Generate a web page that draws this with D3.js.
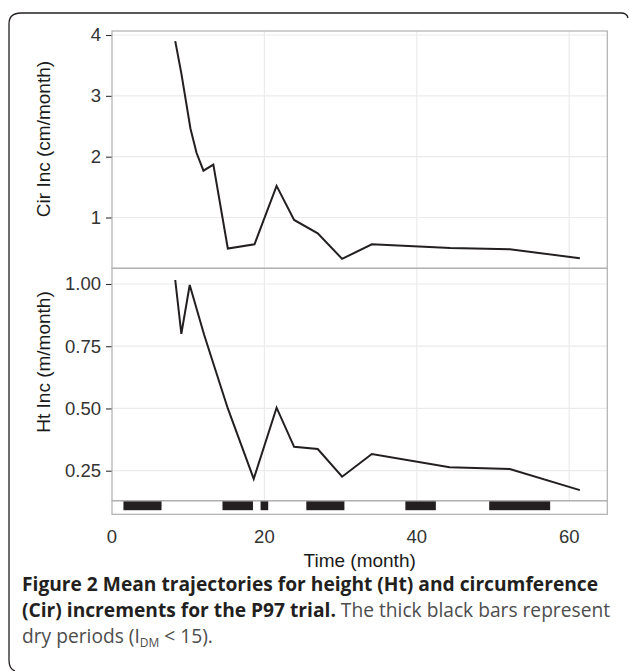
<!DOCTYPE html>
<html>
<head>
<meta charset="utf-8">
<script src="https://cdn.jsdelivr.net/npm/d3@7.9.0/dist/d3.min.js"></script>
<style>
  body { margin: 0; background: #fff; }
  svg { display: block; }
  .tick-label { font-family: "Liberation Sans", Arial, sans-serif; font-size: 18.5px; fill: #333; }
  .axis-title { font-family: "Liberation Sans", Arial, sans-serif; font-size: 19px; fill: #1a1a1a; }
  .caption { font-family: "Open Sans", "Noto Sans", sans-serif; font-size: 19.2px; }
</style>
</head>
<body>
<svg id="chart" width="629" height="671"></svg>
<script>
// circumference increment (cm/month)
const cirTime = [8.3, 9.1, 10.3, 11.1, 12.0, 13.3, 15.2, 18.7, 21.6, 23.9, 27.0, 30.2, 34.1, 44.4, 52.2, 61.4];
const cirInc = [3.90, 3.37, 2.46, 2.06, 1.77, 1.87, 0.49, 0.56, 1.52, 0.96, 0.74, 0.32, 0.56, 0.50, 0.48, 0.33];

// height increment (m/month)
const htTime = [8.3, 9.1, 10.2, 12.1, 15.2, 18.6, 21.6, 23.9, 27.0, 30.2, 34.1, 44.3, 52.2, 61.4];
const htInc = [1.016, 0.80, 0.996, 0.795, 0.50, 0.217, 0.503, 0.346, 0.337, 0.226, 0.317, 0.264, 0.257, 0.172];

// dry periods (I_DM < 15)
const dryStart = [1.5, 14.5, 19.5, 25.5, 38.5, 49.5];
const dryEnd = [6.5, 18.5, 20.5, 30.5, 42.5, 57.5];

const xTicks = [0, 20, 40, 60];
const cirTicks = [1, 2, 3, 4];
const htTicks = [0.25, 0.5, 0.75, 1.0];

const svg = d3.select('#chart');

// layout
const left = 112, right = 607.3;
const topPanel = { y0: 31, y1: 268.3 };
const botPanel = { y0: 268.3, y1: 500.7 };
const strip = { y0: 500.7, y1: 514.3 };

let x = d3.scaleLinear().domain([0, 65]).range([left, right]);
let yCir = d3.scaleLinear().domain([0.165, 4.066]).range([topPanel.y1, topPanel.y0]);
let yHt = d3.scaleLinear().domain([0.1295, 1.063]).range([botPanel.y1, botPanel.y0]);

// outer frame of the figure
svg.append('path')
  .attr('d', 'M15,671 Q9,669 9,660 L9,24 Q9,13 21,13 L621,13 Q627,13 628,18')
  .attr('fill', 'none')
  .attr('stroke', '#231f20')
  .attr('stroke-width', 1.3);

function drawPanel(panel, yScale, ticks, fmt, tVals, vVals) {
  let g = svg.append('g');

  // grid
  g.selectAll('.vgrid').data(xTicks.filter(d => d > 0))
    .join('line')
    .attr('x1', d => x(d)).attr('x2', d => x(d))
    .attr('y1', panel.y0).attr('y2', panel.y1)
    .attr('stroke', '#ebebeb').attr('stroke-width', 1.2);
  g.selectAll('.hgrid').data(ticks)
    .join('line')
    .attr('x1', left).attr('x2', right)
    .attr('y1', d => yScale(d)).attr('y2', d => yScale(d))
    .attr('stroke', '#ebebeb').attr('stroke-width', 1.2);

  // left axis
  let axis = d3.axisLeft(yScale).tickValues(ticks).tickFormat(fmt).tickSize(6).tickPadding(5);
  let ag = g.append('g').attr('transform', `translate(${left},0)`).call(axis);
  ag.attr('font-size', null).attr('font-family', null);
  ag.select('.domain').remove();
  ag.selectAll('.tick line').attr('stroke', '#333').attr('stroke-width', 1.1);
  ag.selectAll('.tick text').attr('class', 'tick-label').attr('fill', null);

  // line
  let pts = tVals.map((t, i) => [t, vVals[i]]);
  g.append('path')
    .datum(pts)
    .attr('d', d3.line().x(d => x(d[0])).y(d => yScale(d[1])))
    .attr('fill', 'none')
    .attr('stroke', '#231f20')
    .attr('stroke-width', 2)
    .attr('stroke-linejoin', 'miter');

  g.append('rect')
    .attr('x', left).attr('y', panel.y0)
    .attr('width', right - left).attr('height', panel.y1 - panel.y0)
    .attr('fill', 'none').attr('stroke', '#b0b0b0').attr('stroke-width', 1.2);
}

drawPanel(topPanel, yCir, cirTicks, d3.format('d'), cirTime, cirInc);
drawPanel(botPanel, yHt, htTicks, d3.format('.2f'), htTime, htInc);

// dry period strip
let sg = svg.append('g');
sg.selectAll('rect.dry').data(dryStart)
  .join('rect')
  .attr('class', 'dry')
  .attr('x', (d, i) => x(d))
  .attr('width', (d, i) => x(dryEnd[i]) - x(d))
  .attr('y', strip.y0 + 0.5)
  .attr('height', 9)
  .attr('fill', '#231f20');
sg.append('rect')
  .attr('x', left).attr('y', strip.y0)
  .attr('width', right - left).attr('height', strip.y1 - strip.y0)
  .attr('fill', 'none').attr('stroke', '#b0b0b0').attr('stroke-width', 1.2);

// x labels
svg.append('g').selectAll('text').data(xTicks)
  .join('text')
  .attr('class', 'tick-label')
  .attr('x', d => x(d))
  .attr('y', 543)
  .attr('text-anchor', 'middle')
  .text(d => d);

svg.append('text').attr('class', 'axis-title')
  .attr('x', (left + right) / 2).attr('y', 567)
  .attr('text-anchor', 'middle')
  .text('Time (month)');

svg.append('text').attr('class', 'axis-title')
  .attr('transform', 'translate(50,139) rotate(-90)')
  .attr('text-anchor', 'middle')
  .text('Cir Inc (cm/month)');

svg.append('text').attr('class', 'axis-title')
  .attr('transform', 'translate(50,362) rotate(-90)')
  .attr('text-anchor', 'middle')
  .text('Ht Inc (m/month)');

// caption
let cap = svg.append('g').attr('class', 'caption');
let l1 = cap.append('text').attr('x', 22).attr('y', 591)
  .attr('font-weight', 'bold').attr('fill', '#231f20')
  .text('Figure 2 Mean trajectories for height (Ht) and circumference');
let l2 = cap.append('text').attr('x', 22).attr('y', 617);
l2.append('tspan').attr('font-weight', 'bold').attr('fill', '#231f20')
  .text('(Cir) increments for the P97 trial.');
l2.append('tspan').attr('fill', '#4d4d4d').text(' The thick black bars represent');
let l3 = cap.append('text').attr('x', 22).attr('y', 643).attr('fill', '#4d4d4d');
l3.append('tspan').text('dry periods (I');
l3.append('tspan').attr('font-size', '12px').attr('dy', 4).text('DM');
l3.append('tspan').attr('dy', -4).text(' < 15).');
</script>
</body>
</html>
